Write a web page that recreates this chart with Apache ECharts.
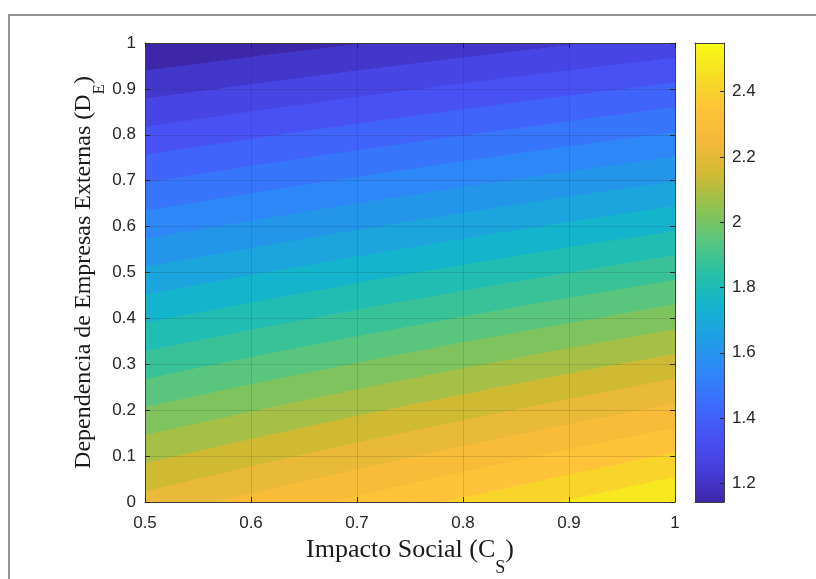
<!DOCTYPE html>
<html><head><meta charset="utf-8">
<script src="https://cdn.jsdelivr.net/npm/echarts@6/dist/echarts.min.js"></script>
<style>html,body{margin:0;padding:0;background:#fff}#c{width:816px;height:579px}</style>
</head><body><div id="c"></div>
<script>
// ---- data ----
const xValues = [0.5, 0.6, 0.7, 0.8, 0.9, 1.0];           // Impacto Social (C_S)
const yValues = [0, 0.1, 0.2, 0.3, 0.4, 0.5, 0.6, 0.7, 0.8, 0.9, 1.0]; // Dependencia (D_E)
// surface values zGrid[row for y][column for x]
const zGrid = [
  [2.239, 2.301, 2.363, 2.425, 2.487, 2.549],
  [2.129, 2.188, 2.247, 2.306, 2.365, 2.424],
  [2.020, 2.076, 2.132, 2.187, 2.243, 2.299],
  [1.910, 1.963, 2.016, 2.069, 2.122, 2.174],
  [1.801, 1.850, 1.900, 1.950, 2.000, 2.050],
  [1.691, 1.738, 1.785, 1.831, 1.878, 1.925],
  [1.581, 1.625, 1.669, 1.713, 1.757, 1.800],
  [1.472, 1.513, 1.553, 1.594, 1.635, 1.676],
  [1.362, 1.400, 1.438, 1.475, 1.513, 1.551],
  [1.253, 1.287, 1.322, 1.357, 1.392, 1.427],
  [1.143, 1.175, 1.206, 1.238, 1.270, 1.302]
];
const colorMin = 1.143;
const colorMax = 2.549;
const levelCount = 20;
const xTicks = [0.5, 0.6, 0.7, 0.8, 0.9, 1];
const yTicks = [0, 0.1, 0.2, 0.3, 0.4, 0.5, 0.6, 0.7, 0.8, 0.9, 1];
const colorTicks = [1.2, 1.4, 1.6, 1.8, 2, 2.2, 2.4];

// ---- parula-like colormap ----
const parulaStops = [
  [0.000, [62, 38, 168]], [0.071, [70, 62, 218]], [0.143, [72, 82, 244]], [0.214, [60, 108, 252]],
  [0.286, [46, 135, 247]], [0.357, [30, 158, 228]], [0.429, [20, 180, 205]], [0.500, [40, 192, 165]],
  [0.571, [90, 198, 125]], [0.643, [145, 194, 80]], [0.714, [208, 186, 52]], [0.786, [245, 185, 58]],
  [0.857, [254, 195, 56]], [0.929, [246, 222, 36]], [1.000, [249, 251, 21]]
];
function parula(t) {
  t = Math.max(0, Math.min(1, t));
  for (let i = 1; i < parulaStops.length; i++) {
    if (t <= parulaStops[i][0]) {
      const a = parulaStops[i-1], b = parulaStops[i];
      const f = (t - a[0]) / (b[0] - a[0]);
      const c = a[1].map((v, k) => Math.round(v + (b[1][k] - v) * f));
      return 'rgb(' + c.join(',') + ')';
    }
  }
  return 'rgb(249,251,21)';
}

const levels = [];
for (let k = 1; k <= levelCount; k++) levels.push(colorMin + k * (colorMax - colorMin) / (levelCount + 1));
const bands = [];
for (let k = 0; k <= levelCount; k++) {
  const lo = k === 0 ? -Infinity : levels[k-1];
  const hi = k === levelCount ? Infinity : levels[k];
  const cv = k === 0 ? colorMin : levels[k-1];
  bands.push({lo, hi, color: parula((cv - colorMin) / (colorMax - colorMin))});
}

function clipPoly(poly, t, keepAbove) {
  const out = [];
  const inside = p => keepAbove ? p.v >= t : p.v <= t;
  for (let i = 0; i < poly.length; i++) {
    const cur = poly[i], prev = poly[(i + poly.length - 1) % poly.length];
    const ci = inside(cur), pi = inside(prev);
    if (ci !== pi) {
      const f = (t - prev.v) / (cur.v - prev.v);
      out.push({x: prev.x + (cur.x - prev.x) * f, y: prev.y + (cur.y - prev.y) * f, v: t});
    }
    if (ci) out.push(cur);
  }
  return out;
}

const cellData = [];
for (let j = 0; j < yValues.length - 1; j++)
  for (let i = 0; i < xValues.length - 1; i++)
    cellData.push([xValues[i], yValues[j], i, j]);

function renderCell(params, api) {
  const i = api.value(2), j = api.value(3);
  const quad = [
    {x: xValues[i], y: yValues[j], v: zGrid[j][i]},
    {x: xValues[i+1], y: yValues[j], v: zGrid[j][i+1]},
    {x: xValues[i+1], y: yValues[j+1], v: zGrid[j+1][i+1]},
    {x: xValues[i], y: yValues[j+1], v: zGrid[j+1][i]}
  ];
  const children = [];
  bands.forEach(b => {
    let p = quad;
    if (b.lo !== -Infinity) p = clipPoly(p, b.lo, true);
    if (p.length >= 3 && b.hi !== Infinity) p = clipPoly(p, b.hi, false);
    if (p.length >= 3) {
      children.push({
        type: 'polygon',
        shape: {points: p.map(q => api.coord([q.x, q.y]))},
        style: {fill: b.color, stroke: b.color, lineWidth: 1}
      });
    }
  });
  return {type: 'group', children};
}

const axisColor = '#404040';
const textColor = '#262626';
const sansFont = 'Liberation Sans, Arial, sans-serif';
const serifFont = 'Liberation Serif, Times New Roman, serif';
const xTitleRich = {
  m: {fontFamily: serifFont, fontSize: 26, color: '#1a1a1a', lineHeight: 40, verticalAlign: 'top'},
  s: {fontFamily: serifFont, fontSize: 18, color: '#1a1a1a', lineHeight: 8, verticalAlign: 'bottom'}
};
const yTitleRich = {
  m: {fontFamily: serifFont, fontSize: 24, color: '#1a1a1a', lineHeight: 36, verticalAlign: 'top'},
  s: {fontFamily: serifFont, fontSize: 17, color: '#1a1a1a', lineHeight: 18, verticalAlign: 'bottom'}
};

const chart = echarts.init(document.getElementById('c'), null, {renderer: 'canvas'});
chart.setOption({
  animation: false,
  backgroundColor: '#ffffff',
  graphic: [{
    type: 'rect', z: 0,
    shape: {x: 9, y: 15, width: 830, height: 600},
    style: {fill: 'none', stroke: '#707070', lineWidth: 1.5}
  }],
  grid: [
    {left: 145, top: 43, width: 530, height: 459, outerBoundsMode: 'none'},
    {left: 695, top: 43, width: 29, height: 459, outerBoundsMode: 'none'}
  ],
  xAxis: [
    {gridIndex: 0, type: 'value', position: 'bottom', min: 0.5, max: 1, interval: 0.1, z: 5,
     axisLine: {show: true, onZero: false, lineStyle: {color: axisColor, width: 1}},
     axisTick: {show: true, inside: true, length: 5, lineStyle: {color: textColor}},
     axisLabel: {margin: 13, fontSize: 17, color: textColor, fontFamily: sansFont},
     splitLine: {show: true, lineStyle: {color: 'rgba(38,38,38,0.15)', width: 1}},
     name: '{m|Impacto Social (C}{s|S}{m|)}', nameLocation: 'middle', nameGap: 35,
     nameMoveOverlap: false, nameTextStyle: {rich: xTitleRich}},
    {gridIndex: 0, type: 'value', position: 'top', min: 0.5, max: 1, interval: 0.1, z: 5,
     axisLine: {show: true, onZero: false, lineStyle: {color: axisColor, width: 1}},
     axisTick: {show: true, inside: true, length: 5, lineStyle: {color: textColor}},
     axisLabel: {show: false}, splitLine: {show: false}},
    {gridIndex: 1, type: 'value', position: 'bottom', min: 0, max: 1, z: 5,
     axisLine: {show: true, onZero: false, lineStyle: {color: axisColor, width: 1}},
     axisTick: {show: false}, axisLabel: {show: false}, splitLine: {show: false}},
    {gridIndex: 1, type: 'value', position: 'top', min: 0, max: 1, z: 5,
     axisLine: {show: true, onZero: false, lineStyle: {color: axisColor, width: 1}},
     axisTick: {show: false}, axisLabel: {show: false}, splitLine: {show: false}}
  ],
  yAxis: [
    {gridIndex: 0, type: 'value', position: 'left', min: 0, max: 1, interval: 0.1, z: 5,
     axisLine: {show: true, onZero: false, lineStyle: {color: axisColor, width: 1}},
     axisTick: {show: true, inside: true, length: 5, lineStyle: {color: textColor}},
     axisLabel: {margin: 9, fontSize: 17, color: textColor, fontFamily: sansFont},
     splitLine: {show: true, lineStyle: {color: 'rgba(38,38,38,0.15)', width: 1}},
     name: '{m|Dependencia de Empresas Externas (D}{s|E}{m|)}', nameLocation: 'middle', nameGap: 37,
     nameRotate: 90, nameMoveOverlap: false, nameTextStyle: {rich: yTitleRich}},
    {gridIndex: 0, type: 'value', position: 'right', min: 0, max: 1, interval: 0.1, z: 5,
     axisLine: {show: true, onZero: false, lineStyle: {color: axisColor, width: 1}},
     axisTick: {show: true, inside: true, length: 5, lineStyle: {color: textColor}},
     axisLabel: {show: false}, splitLine: {show: false}},
    {gridIndex: 1, type: 'value', position: 'right', min: colorMin, max: colorMax, z: 5,
     axisLine: {show: true, onZero: false, lineStyle: {color: axisColor, width: 1}},
     axisTick: {show: true, inside: true, length: 4, customValues: colorTicks, lineStyle: {color: textColor}},
     axisLabel: {margin: 8, fontSize: 17, color: textColor, fontFamily: sansFont, customValues: colorTicks},
     splitLine: {show: false}},
    {gridIndex: 1, type: 'value', position: 'left', min: colorMin, max: colorMax, z: 5,
     axisLine: {show: true, onZero: false, lineStyle: {color: axisColor, width: 1}},
     axisTick: {show: false}, axisLabel: {show: false}, splitLine: {show: false}}
  ],
  series: [
    {type: 'custom', name: 'contour', xAxisIndex: 0, yAxisIndex: 0, clip: true, silent: true,
     data: cellData, encode: {x: 0, y: 1}, renderItem: renderCell, z: 1},
    {type: 'custom', name: 'colorbar', xAxisIndex: 2, yAxisIndex: 2, silent: true, z: 1,
     data: [[0, colorMin, 1, colorMax]], encode: {x: [0, 2], y: [1, 3]},
     renderItem: function (params, api) {
       const p0 = api.coord([api.value(0), api.value(3)]);
       const p1 = api.coord([api.value(2), api.value(1)]);
       return {type: 'rect', shape: {x: p0[0], y: p0[1], width: p1[0] - p0[0], height: p1[1] - p0[1]},
         style: {fill: new echarts.graphic.LinearGradient(0, 1, 0, 0,
           parulaStops.map(s => ({offset: s[0], color: 'rgb(' + s[1].join(',') + ')'})))}};
     }}
  ]
});
</script></body></html>
